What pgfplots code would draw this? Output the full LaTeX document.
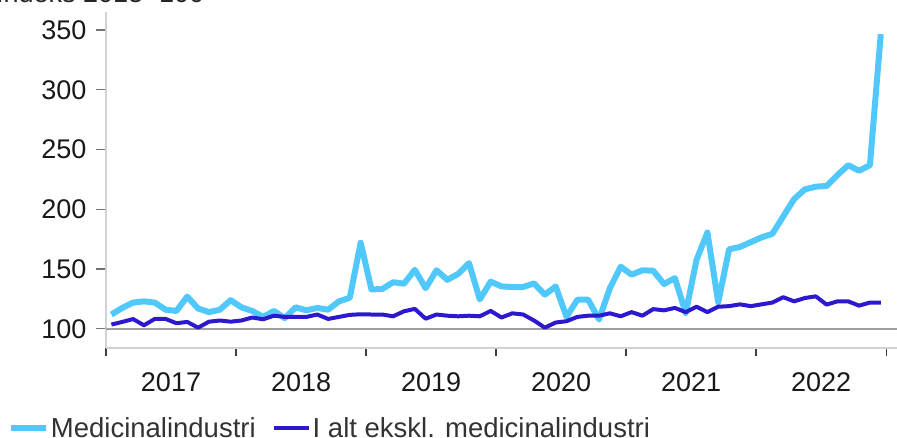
\documentclass[border=0pt]{standalone}
\usepackage{pgfplots}
\usepackage{pgfplotstable}
\pgfplotsset{compat=1.18}
\usepackage{fontspec}
\setmainfont{Liberation Sans}
\definecolor{lblue}{RGB}{80,200,252}
\definecolor{dblue}{RGB}{45,25,205}
\pgfplotstableread{
x M D
0.5 112 103.6
1.5 117.5 105.8
2.5 122 108.2
3.5 123 103
4.5 122 108.3
5.5 116 108.3
6.5 115 104.7
7.5 127 105.8
8.5 117 101
9.5 114 106
10.5 116 107
11.5 124 106
12.5 118 107
13.5 115 109.5
14.5 110 108
15.5 115 111
16.5 109 110
17.5 118 110
18.5 115.5 110
19.5 117.5 112
20.5 116 108.3
21.5 123 110
22.5 126 111.7
23.5 172 112.2
24.5 133 112
25.5 133.3 112
26.5 139 110.5
27.5 137.8 114.7
28.5 149.4 116.7
29.5 134 108.5
30.5 149 112
31.5 141 111
32.5 146 110.5
33.5 155 111
34.5 124.6 110.5
35.5 139.5 115
36.5 135.5 109.5
37.5 135 113
38.5 135 112
39.5 138 107
40.5 128.6 101
41.5 135.5 105.3
42.5 110 106.4
43.5 124.4 110
44.5 124.4 111
45.5 107.8 111
46.5 134 113
47.5 152 110.5
48.5 145.3 114
49.5 149 111
50.5 148.6 116.5
51.5 137.5 115.5
52.5 142.5 117.5
53.5 113.3 114
54.5 157.8 118.5
55.5 180.6 114
56.5 122.2 118.5
57.5 166.5 119
58.5 168.5 120.5
59.5 172.5 119
60.5 176.5 120.5
61.5 179.5 122
62.5 194 126.5
63.5 208.5 123
64.5 216.7 125.8
65.5 218.9 127.2
66.5 219.5 120.3
67.5 228.6 123
68.5 236.9 123
69.5 232.2 119.4
70.5 236.9 122
71.5 346.5 122
}\datatable
\begin{document}
\begin{tikzpicture}[x=1bp,y=1bp]
\path[use as bounding box] (0,0) rectangle (897,438);
\node[anchor=base west, inner sep=0pt, font=\fontsize{27bp}{32bp}\selectfont, text=black!85] at (-4,435.5) {Indeks 2015=100};
\begin{axis}[
  at={(106bp,90bp)}, anchor=south west,
  scale only axis, width=791bp, height=336bp,
  xmin=0, xmax=73, ymin=84, ymax=365,
  axis x line*=bottom, axis y line*=left,
  x axis line style={-, draw=gray!35, line width=1.5bp},
  y axis line style={-, draw=gray!35, line width=1.5bp},
  tick align=outside,
  xtick={6,18,30,42,54,66},
  xticklabels={2017,2018,2019,2020,2021,2022},
  minor xtick={0,12,24,36,48,60,72},
  every major x tick/.style={draw=none},
  every minor x tick/.style={draw=black!75, line width=1.3bp},
  minor tick length=8bp,
  major tick length=10bp,
  ytick={100,150,200,250,300,350},
  every major y tick/.style={draw=black!55, line width=1.2bp},
  tick label style={font=\fontsize{27bp}{32bp}\selectfont, text=black!90},
  /pgf/number format/assume math mode=true,
  xticklabel style={yshift=-11bp},
  yticklabel style={xshift=-6bp},
  legend style={at={(-0.124,-0.238)}, anchor=west, draw=none, fill=none,
    inner sep=0pt, outer sep=0pt, font=\fontsize{27.5bp}{33bp}\selectfont, text=black!80,
    legend columns=-1,
    /tikz/every even column/.append style={column sep=14bp}},
  legend image code/.code={\draw[#1, line cap=butt] (0bp,0bp) -- (35bp,0bp);},
  line join=round,
]
\draw[gray!75, line width=2bp] (axis cs:0,100) -- (axis cs:73,100);
\addplot[lblue, line width=6bp, line join=round] table[x=x, y=M] {\datatable};
\addlegendentry{Medicinalindustri}
\addplot[dblue, line width=4bp, line join=round] table[x=x, y=D] {\datatable};
\addlegendentry{I alt ekskl. medicinalindustri}
\end{axis}
\end{tikzpicture}
\end{document}
